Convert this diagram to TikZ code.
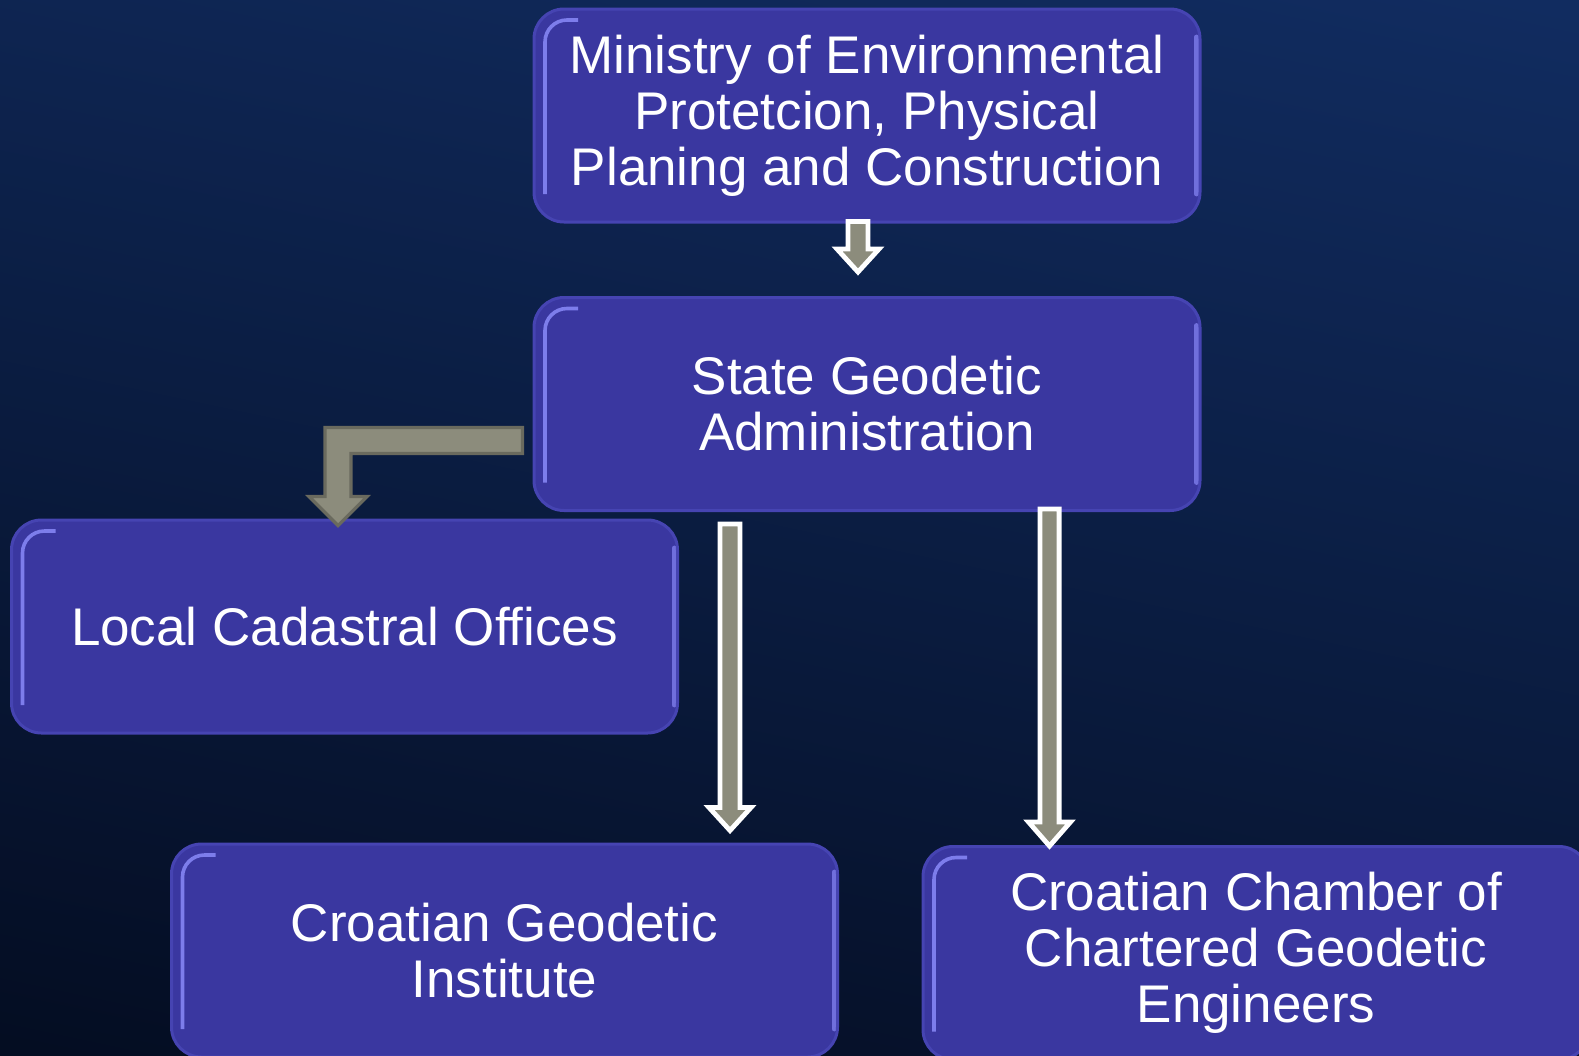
\documentclass[tikz,border=0pt]{standalone}
\usepackage{fontspec}
\setmainfont{Liberation Sans}
\usetikzlibrary{calc}
\definecolor{boxfill}{RGB}{58,55,160}
\definecolor{boxrim}{RGB}{70,68,178}
\definecolor{boxhi}{RGB}{125,125,235}
\definecolor{arrgray}{RGB}{140,140,124}
\definecolor{arrdark}{RGB}{106,106,94}
\definecolor{bgtop}{RGB}{17,44,96}
\definecolor{bgbot}{RGB}{4,13,34}

\tikzset{
  orgbox/.style={rectangle, rounded corners=15pt, fill=boxfill, draw=boxrim, line width=1.5pt,
    minimum width=333pt, minimum height=106.5pt, text=white, align=center,
    font=\fontsize{26.5}{28}\selectfont, inner sep=0pt,
    path picture={
      \draw[boxhi, line width=1.8pt, rounded corners=11pt]
        ([shift={(5.5pt,14pt)}]path picture bounding box.south west) --
        ([shift={(5.5pt,-5.5pt)}]path picture bounding box.north west) --
        ([shift={(22pt,-5.5pt)}]path picture bounding box.north west);
      \draw[boxhi!80!boxfill, line width=2.4pt, line cap=round]
        ([shift={(-1.7pt,-14pt)}]path picture bounding box.north east) --
        ([shift={(-1.7pt,14pt)}]path picture bounding box.south east);
    }},
  whitearrow/.style={fill=arrgray, draw=white, line width=2.4pt, line join=miter},
  grayarrow/.style={fill=arrgray, draw=arrdark, line width=1.6pt, line join=miter}
}

% style, start, end, half shaft, half head, head length
\newcommand{\vblockarrow}[6]{%
  \path[#1] let \p1=(#2), \p2=(#3) in
    ({\x1-#4},\y1) -- ({\x1-#4},{\y2+#6}) -- ({\x1-#5},{\y2+#6}) -- (\x1,\y2) --
    ({\x1+#5},{\y2+#6}) -- ({\x1+#4},{\y2+#6}) -- ({\x1+#4},\y1) -- cycle;}

\begin{document}
\begin{tikzpicture}[x=0.5pt, y=-0.5pt]
\useasboundingbox (0,0) rectangle (1579,1055);
\clip (0,0) rectangle (1579,1055);
\shade[top color=bgtop, bottom color=bgbot, shading angle=-12] (-100,-100) rectangle (1679,1155);

\node[orgbox] (min) at (867,115.5) {Ministry of Environmental\\Protetcion, Physical\\Planing and Construction};
\node[orgbox] (sga) at (867,404) {State Geodetic\\Administration};
\node[orgbox] (lco) at (344.5,626.5) {Local Cadastral Offices};
\node[orgbox] (cgi) at (504.5,950.5) {Croatian Geodetic\\Institute};
\node[orgbox] (ccg) at (1256,953) {Croatian Chamber of\\Chartered Geodetic\\Engineers};

\vblockarrow{whitearrow}{[xshift=-4.5pt,yshift=1pt]min.south}{[yshift=12pt]sga.north}{5pt}{10.5pt}{11.5pt}
\vblockarrow{whitearrow}{[xshift=-68.5pt,yshift=-6pt]sga.south}{[yshift=6pt]cgi.north}{5pt}{10.5pt}{11.5pt}
\vblockarrow{whitearrow}{[xshift=91.25pt,yshift=1.5pt]sga.south}{[yshift=-0.5pt]ccg.north}{4.8pt}{10.5pt}{12pt}

\path[grayarrow] let \p1=([xshift=-5pt,yshift=-18.25pt]sga.west), \p2=([xshift=-3.25pt,yshift=-3.5pt]lco.north) in
  (\x1,{\y1+6.5pt}) -- ({\x2-6.5pt},{\y1+6.5pt}) -- ({\x2-6.5pt},{\y2+14.5pt}) -- ({\x2-14.5pt},{\y2+14.5pt}) --
  (\x2,\y2) -- ({\x2+14.5pt},{\y2+14.5pt}) -- ({\x2+6.5pt},{\y2+14.5pt}) -- ({\x2+6.5pt},{\y1-6.5pt}) --
  (\x1,{\y1-6.5pt}) -- cycle;
\end{tikzpicture}
\end{document}
